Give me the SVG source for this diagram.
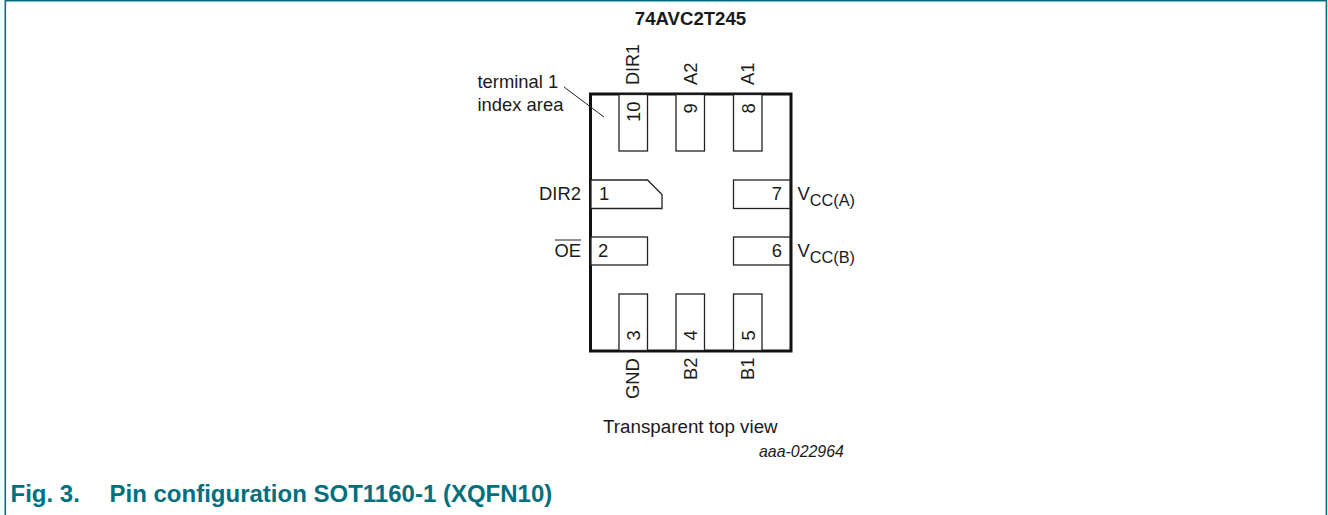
<svg xmlns="http://www.w3.org/2000/svg" width="1328" height="515" viewBox="0 0 1328 515">
<style>
text{font-family:"Liberation Sans",Arial,sans-serif;fill:#1a1a1a;font-size:18.400px}
.pad{fill:#fff;stroke:#222;stroke-width:1.3}
.body{fill:#fff;stroke:#111;stroke-width:3}
.sub{font-size:16.300px}
.num{font-size:18.400px}
.cap{font-size:24px;font-weight:bold;fill:#00707f}
</style>
<rect width="1328" height="515" fill="#fff"/>
<path d="M5.300 515V0.800H1326.400V515" fill="none" stroke="#00707f" stroke-width="1.600"/>
<text x="690.500" y="25" text-anchor="middle" font-weight="bold" style="font-size:18.600px">74AVC2T245</text>
<g id="package"><rect class="body" x="590.500" y="94" width="200.500" height="257"/></g>
<g id="connectors"><path d="M564 87L604 117" fill="none" stroke="#222" stroke-width="1"/></g>
<g id="pin10"><rect class="pad" x="619" y="94.500" width="28.500" height="56.500"/><text class="num" transform="translate(639.500,122) rotate(-90)">10</text><text transform="translate(638.500,85) rotate(-90)" style="font-size:18px">DIR1</text></g>
<g id="pin9"><rect class="pad" x="676" y="94.500" width="28.500" height="56.500"/><text class="num" transform="translate(697,113.500) rotate(-90)">9</text><text transform="translate(697,85) rotate(-90)">A2</text></g>
<g id="pin8"><rect class="pad" x="733.500" y="94.500" width="28.500" height="56.500"/><text class="num" transform="translate(754.500,113.500) rotate(-90)">8</text><text transform="translate(754,85) rotate(-90)">A1</text></g>
<g id="pin1"><path class="pad" d="M591 180H647.500L662 194.500V208.500H591Z"/><text class="num" x="599" y="200">1</text><text x="581" y="200" text-anchor="end">DIR2</text></g>
<g id="pin2"><rect class="pad" x="591" y="237" width="56.500" height="28"/><text class="num" x="598" y="257">2</text><text x="581" y="257" text-anchor="end">OE</text><path d="M555 240H581" stroke="#222" stroke-width="1" fill="none"/></g>
<g id="pin7"><rect class="pad" x="733.500" y="180" width="56.500" height="28.500"/><text class="num" x="782" y="200" text-anchor="end">7</text><text x="797.500" y="200">V<tspan class="sub" dy="6">CC(A)</tspan></text></g>
<g id="pin6"><rect class="pad" x="733.500" y="237" width="56.500" height="28"/><text class="num" x="782" y="257" text-anchor="end">6</text><text x="797.500" y="257">V<tspan class="sub" dy="6">CC(B)</tspan></text></g>
<g id="pin3"><rect class="pad" x="619" y="294" width="28.500" height="56.500"/><text class="num" transform="translate(639.500,340.500) rotate(-90)">3</text><text transform="translate(639,399) rotate(-90)">GND</text></g>
<g id="pin4"><rect class="pad" x="676" y="294" width="28.500" height="56.500"/><text class="num" transform="translate(697,340.500) rotate(-90)">4</text><text transform="translate(697,380) rotate(-90)">B2</text></g>
<g id="pin5"><rect class="pad" x="733.500" y="294" width="28.500" height="56.500"/><text class="num" transform="translate(754.500,340.500) rotate(-90)">5</text><text transform="translate(754,380) rotate(-90)">B1</text></g>
<text x="477.500" y="88">terminal 1</text>
<text x="477.500" y="111">index area</text>
<text x="603" y="433" style="font-size:18.800px">Transparent top view</text>
<text x="759" y="456.500" font-style="italic" style="font-size:15.900px">aaa-022964</text>
<text class="cap" x="10.500" y="502">Fig. 3.</text>
<text class="cap" x="109.500" y="502">Pin configuration SOT1160-1 (XQFN10)</text>
</svg>
